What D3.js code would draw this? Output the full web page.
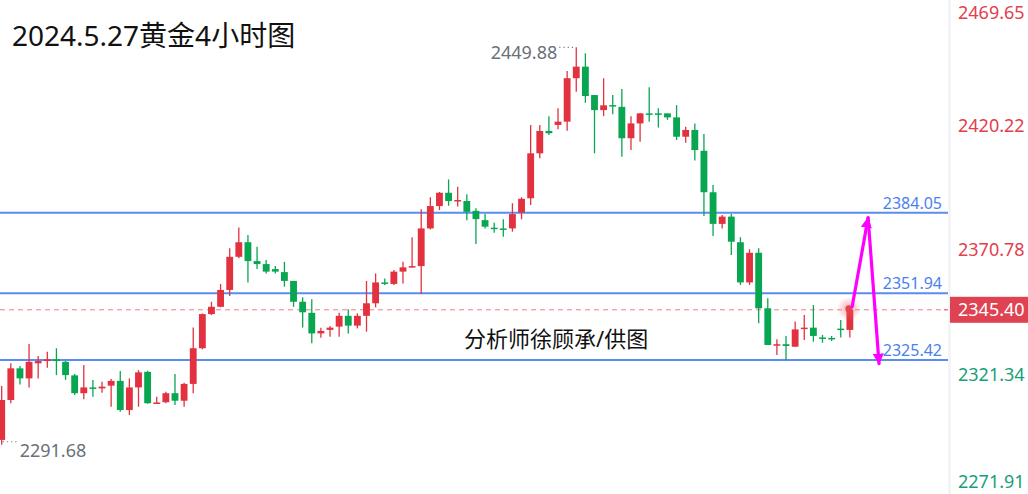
<!DOCTYPE html>
<html>
<head>
<meta charset="utf-8">
<script src="https://cdn.jsdelivr.net/npm/d3@7"></script>
<style>
  html, body { margin: 0; padding: 0; background: #ffffff; }
  svg { display: block; }
  text { font-family: "Noto Sans", "Noto Sans CJK SC", sans-serif; }
</style>
</head>
<body>
<svg id="chart" width="1028" height="494"></svg>
<script>
// 4-hour gold candles, oldest first
const opens = [
  2293.6, 2309.5, 2322.1, 2318.1, 2324.1, 2325.0, 2325.7, 2324.7, 2319.3, 2312.2,
  2314.5, 2314.1, 2315.2, 2317.1, 2305.5, 2314.5, 2320.7, 2308.2, 2308.6, 2312.2,
  2309.2, 2315.9, 2330.1, 2343.7, 2346.6, 2353.3, 2366.5, 2372.3, 2364.8, 2363.6,
  2361.6, 2360.4, 2356.9, 2348.6, 2344.2, 2336.0, 2337.4, 2338.7, 2343.0, 2339.1,
  2343.0, 2348.0, 2356.3, 2355.7, 2360.6, 2362.3, 2362.8, 2377.8, 2386.7, 2392.0,
  2388.7, 2388.7, 2384.8, 2381.1, 2378.1, 2377.8, 2377.8, 2384.05, 2389.8, 2407.7,
  2416.6, 2419.0, 2420.3, 2437.6, 2442.2, 2430.9, 2424.9, 2426.9, 2426.2, 2413.7,
  2419.6, 2423.6, 2423.6, 2423.6, 2422.0, 2414.3, 2417.0, 2408.7, 2392.2, 2379.6,
  2382.5, 2372.3, 2356.3, 2368.1, 2346.0, 2331.3, 2331.7, 2330.7, 2337.9, 2338.3,
  2334.4, 2334.2, 2337.9, 2337.4
];
const highs = [
  2315.1, 2324.1, 2323.0, 2331.8, 2327.0, 2328.7, 2330.1, 2325.0, 2319.8, 2323.4,
  2317.5, 2316.8, 2317.9, 2321.0, 2318.1, 2321.4, 2321.1, 2310.8, 2312.8, 2319.8,
  2316.4, 2338.4, 2343.9, 2348.6, 2355.7, 2369.9, 2378.2, 2375.2, 2370.5, 2365.2,
  2362.8, 2364.5, 2356.9, 2350.4, 2349.6, 2338.3, 2339.0, 2344.2, 2345.6, 2344.0,
  2356.9, 2359.9, 2357.9, 2361.2, 2364.5, 2374.3, 2385.4, 2390.2, 2392.3, 2397.3,
  2394.4, 2391.4, 2385.8, 2383.5, 2380.1, 2381.4, 2387.8, 2390.2, 2419.0, 2419.0,
  2422.5, 2425.6, 2440.5, 2449.88, 2447.5, 2430.9, 2437.6, 2430.9, 2433.3, 2422.5,
  2423.7, 2434.0, 2425.6, 2423.6, 2426.9, 2418.3, 2419.6, 2415.4, 2395.1, 2383.1,
  2383.5, 2374.3, 2369.5, 2369.9, 2350.0, 2333.7, 2335.0, 2340.7, 2343.3, 2347.3,
  2335.4, 2335.0, 2341.3, 2346.9
];
const lows = [
  2291.68, 2308.2, 2315.7, 2314.5, 2318.1, 2322.3, 2319.4, 2317.5, 2311.5, 2309.8,
  2310.8, 2312.4, 2306.8, 2304.8, 2303.5, 2306.8, 2308.0, 2308.0, 2308.2, 2307.5,
  2306.8, 2312.2, 2329.7, 2343.3, 2346.4, 2350.9, 2365.9, 2356.3, 2361.6, 2359.9,
  2359.9, 2354.6, 2346.6, 2338.4, 2332.1, 2334.3, 2334.7, 2334.7, 2336.0, 2338.0,
  2336.7, 2346.4, 2355.3, 2355.3, 2355.9, 2362.2, 2351.7, 2377.4, 2385.1, 2386.8,
  2386.5, 2381.1, 2371.6, 2377.8, 2376.1, 2374.5, 2376.5, 2381.4, 2387.1, 2405.7,
  2415.0, 2417.3, 2416.7, 2432.2, 2427.8, 2407.7, 2422.5, 2423.3, 2406.3, 2409.0,
  2412.3, 2420.3, 2418.0, 2421.0, 2413.0, 2411.9, 2404.8, 2382.7, 2374.8, 2377.8,
  2367.2, 2355.3, 2355.3, 2340.0, 2331.4, 2327.4, 2325.42, 2330.7, 2333.4, 2332.7,
  2332.3, 2333.0, 2334.4, 2334.4
];
const closes = [
  2309.5, 2322.1, 2318.1, 2324.7, 2325.0, 2325.7, 2325.0, 2319.4, 2312.2, 2314.5,
  2314.1, 2314.8, 2317.1, 2305.5, 2314.5, 2320.5, 2308.2, 2308.5, 2312.2, 2309.2,
  2315.9, 2330.1, 2343.7, 2346.6, 2353.3, 2366.5, 2372.3, 2364.8, 2363.6, 2360.6,
  2360.6, 2356.9, 2348.6, 2344.4, 2336.0, 2337.0, 2338.3, 2343.0, 2339.1, 2343.0,
  2348.0, 2356.3, 2355.7, 2360.6, 2362.3, 2362.8, 2377.8, 2386.7, 2392.0, 2388.7,
  2389.1, 2384.4, 2381.5, 2378.5, 2377.6, 2377.3, 2383.5, 2389.6, 2407.7, 2416.6,
  2415.7, 2420.3, 2437.6, 2442.2, 2430.5, 2424.9, 2426.8, 2426.5, 2413.7, 2419.6,
  2423.6, 2423.2, 2423.2, 2422.0, 2414.3, 2417.0, 2409.0, 2392.2, 2379.6, 2382.5,
  2372.5, 2356.3, 2368.1, 2346.0, 2331.4, 2331.7, 2331.0, 2337.6, 2338.3, 2335.0,
  2333.9, 2333.8, 2337.4, 2345.40
];

// price axis labels
const axisTicks = [2469.65, 2420.22, 2370.78, 2321.34, 2271.91];
const priceDomain = [2271.91, 2469.65];
// support / resistance levels
const levels = [2384.05, 2351.94, 2325.42];
const lastPrice = 2345.40;
const markHigh = { index: 63, value: 2449.88 };
const markLow = { index: 0, value: 2291.68 };
// projected path: current bar -> 2384 zone -> 2325 zone (index, price)
const pathIdx = [93.25, 95.0, 96.2];
const pathPrice = [2346.6, 2382.0, 2324.0];
const titleText = "2024.5.27黄金4小时图";
const creditText = "分析师徐顾承/供图";

const W = 1028, H = 494, plotRight = 948;
const RED = "#e2323f", GREEN = "#09a651";

const svg = d3.select("#chart");
svg.append("rect").attr("width", W).attr("height", H).attr("fill", "#ffffff");

const n = closes.length;
const x = d3.scaleBand()
  .domain(d3.range(n))
  .range([-2.86, -2.86 + 9.12 * n])
  .paddingInner(0.25)
  .paddingOuter(0.125);
const xc = i => x(0) + x.bandwidth() / 2 + i * x.step();
const y = d3.scaleLinear().domain(priceDomain).range([494.4, -2.3]);

// right axis separator
svg.append("line")
  .attr("x1", plotRight + 1.5).attr("x2", plotRight + 1.5)
  .attr("y1", 0).attr("y2", H)
  .attr("stroke", "#eef0f5").attr("stroke-width", 2);

// current price dashed line
svg.append("line")
  .attr("x1", 0).attr("x2", plotRight - 2)
  .attr("y1", y(lastPrice)).attr("y2", y(lastPrice))
  .attr("stroke", "#f07f87").attr("stroke-width", 1)
  .attr("stroke-dasharray", "5,4");

// level lines + labels
const lv = svg.append("g");
lv.selectAll("line").data(levels).join("line")
  .attr("x1", 0).attr("x2", plotRight)
  .attr("y1", d => y(d)).attr("y2", d => y(d))
  .attr("stroke", "#5b8cf0").attr("stroke-width", 2);
lv.selectAll("text").data(levels).join("text")
  .attr("x", 942).attr("y", d => y(d) - 4)
  .attr("text-anchor", "end")
  .attr("font-size", 16)
  .attr("fill", "#4a7fee")
  .text(d => d.toFixed(2));

// candles
const data = d3.range(n).map(i => ({ i, o: opens[i], h: highs[i], l: lows[i], c: closes[i] }));
const cg = svg.append("g");
const candle = cg.selectAll("g").data(data).join("g");
candle.append("line")
  .attr("x1", d => xc(d.i)).attr("x2", d => xc(d.i))
  .attr("y1", d => y(d.h)).attr("y2", d => y(d.l))
  .attr("stroke", d => d.c >= d.o ? RED : GREEN)
  .attr("stroke-width", 1.3);
candle.append("rect")
  .attr("x", d => x(d.i))
  .attr("width", x.bandwidth())
  .attr("y", d => y(Math.max(d.o, d.c)))
  .attr("height", d => Math.max(1.5, Math.abs(y(d.o) - y(d.c))))
  .attr("fill", d => d.c >= d.o ? RED : GREEN);

// high / low markers
const mk = svg.append("g").attr("fill", "#6b7079").attr("font-size", 18);
mk.append("line")
  .attr("x1", xc(markHigh.index) - 17).attr("x2", xc(markHigh.index) - 1)
  .attr("y1", y(markHigh.value)).attr("y2", y(markHigh.value))
  .attr("stroke", "#7a7f88").attr("stroke-width", 1.2).attr("stroke-dasharray", "1.2,3");
mk.append("text")
  .attr("x", xc(markHigh.index) - 19).attr("y", y(markHigh.value) + 12)
  .attr("text-anchor", "end").text(markHigh.value.toFixed(2));
mk.append("line")
  .attr("x1", xc(markLow.index) + 1).attr("x2", xc(markLow.index) + 17)
  .attr("y1", y(markLow.value) - 3).attr("y2", y(markLow.value) - 3)
  .attr("stroke", "#7a7f88").attr("stroke-width", 1.2).attr("stroke-dasharray", "1.2,3");
mk.append("text")
  .attr("x", xc(markLow.index) + 18).attr("y", y(markLow.value) + 12)
  .text(markLow.value.toFixed(2));

// glow on the live bar
const defs = svg.append("defs");
const grad = defs.append("radialGradient").attr("id", "glow");
grad.append("stop").attr("offset", "0%").attr("stop-color", "#f05a66").attr("stop-opacity", 0.55);
grad.append("stop").attr("offset", "100%").attr("stop-color", "#f05a66").attr("stop-opacity", 0);
svg.append("circle")
  .attr("cx", xc(n - 1) - 1).attr("cy", y(lastPrice) - 1)
  .attr("r", 12).attr("fill", "url(#glow)");
svg.append("circle")
  .attr("cx", xc(n - 1) - 1).attr("cy", y(lastPrice) - 1)
  .attr("r", 3.5).attr("fill", "#e8424f");

// projected path arrows
const MAG = "#ff00ff";
defs.append("marker")
  .attr("id", "arrow").attr("viewBox", "0 0 10 10")
  .attr("refX", 9).attr("refY", 5)
  .attr("markerUnits", "userSpaceOnUse")
  .attr("markerWidth", 11).attr("markerHeight", 11)
  .attr("orient", "auto")
  .append("path").attr("d", "M0,0 L10,5 L0,10 Z").attr("fill", MAG);
for (let k = 0; k < pathIdx.length - 1; k++) {
  svg.append("line")
    .attr("x1", xc(pathIdx[k])).attr("y1", y(pathPrice[k]))
    .attr("x2", xc(pathIdx[k + 1])).attr("y2", y(pathPrice[k + 1]))
    .attr("stroke", MAG).attr("stroke-width", 3.2)
    .attr("stroke-linecap", "round")
    .attr("marker-end", "url(#arrow)");
}

// right price axis
const axis = d3.axisRight(y).tickValues(axisTicks).tickSize(0).tickPadding(0)
  .tickFormat(d => d.toFixed(2));
const ag = svg.append("g").attr("transform", `translate(958,0)`).call(axis);
ag.select(".domain").remove();
ag.selectAll(".tick")
  .attr("transform", d => `translate(0,${Math.max(13, Math.min(482, y(d) + 4.5))})`);
ag.selectAll(".tick text")
  .attr("font-size", 18)
  .attr("font-family", "\"Noto Sans\", sans-serif")
  .attr("fill", d => d > lastPrice ? "#e2404d" : "#17a07a");

// current price tag
svg.append("line")
  .attr("x1", plotRight - 4).attr("x2", plotRight)
  .attr("y1", y(lastPrice)).attr("y2", y(lastPrice))
  .attr("stroke", "#e2404d").attr("stroke-width", 1);
svg.append("rect")
  .attr("x", 950).attr("y", y(lastPrice) - 13)
  .attr("width", 78).attr("height", 26)
  .attr("fill", "#df4351");
svg.append("text")
  .attr("x", 958).attr("y", y(lastPrice))
  .attr("dy", "0.35em")
  .attr("font-size", 18).attr("fill", "#ffffff")
  .text(lastPrice.toFixed(2));

// title and credit
svg.append("text")
  .attr("x", 12).attr("y", 46)
  .attr("font-size", 28).attr("fill", "#111111")
  .attr("font-family", "\"Noto Sans CJK SC\", sans-serif")
  .text(titleText);
svg.append("text")
  .attr("x", 464).attr("y", 347)
  .attr("font-size", 22).attr("fill", "#111111")
  .attr("font-family", "\"Noto Sans CJK SC\", sans-serif")
  .text(creditText);
</script>
</body>
</html>
